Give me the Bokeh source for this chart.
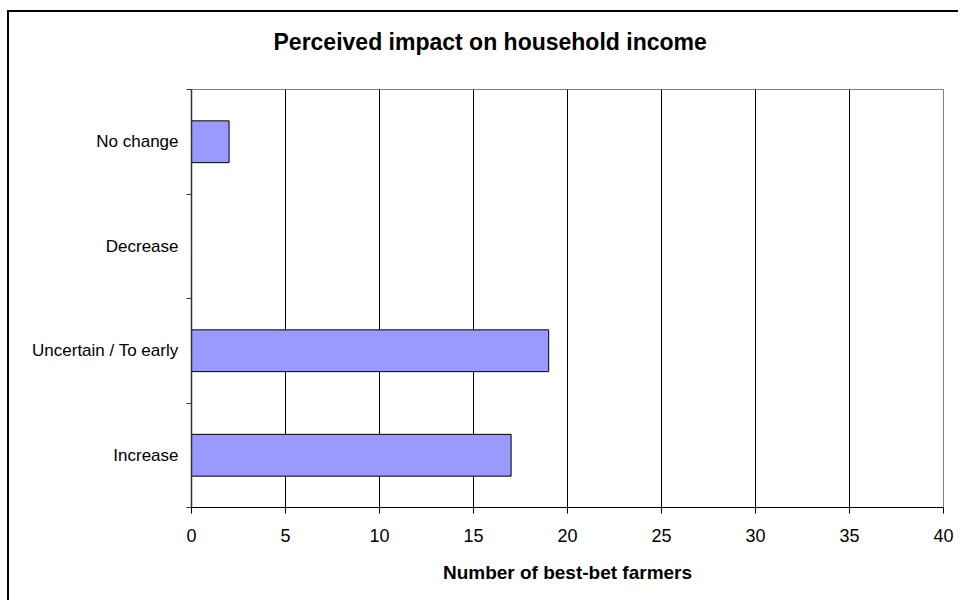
from bokeh.plotting import figure
from bokeh.models import FixedTicker, Range1d, Title
from bokeh.embed import file_html
from bokeh.resources import INLINE

# Survey answers, listed bottom to top
categories = ["Increase", "Uncertain / To early", "Decrease", "No change"]
farmers = [17, 19, 0, 2]
x_ticks = [0, 5, 10, 15, 20, 25, 30, 35, 40]
title_text = "Perceived impact on household income"
x_label = "Number of best-bet farmers"

centers = [i + 0.5 for i in range(len(categories))]
bounds = list(range(len(categories) + 1))

FONT = "Liberation Sans"

p = figure(
    width=951, height=590,
    x_range=Range1d(0, 40), y_range=Range1d(0, len(categories)),
    output_backend="svg", toolbar_location=None,
    min_border_left=182, min_border_right=17,
    min_border_top=77, min_border_bottom=95,
    background_fill_color="white", border_fill_color="white",
)
p.margin = (10, 0, 0, 7)
p.styles = {"border-left": "2px solid black", "border-top": "2px solid black"}

p.hbar(y=centers, right=farmers, left=0, height=0.4,
       fill_color="#9999FF", line_color="black", line_width=1)

p.outline_line_color = "#808080"
p.outline_line_width = 1

# title plus an empty spacer line between it and the plot frame
p.title.text = title_text
p.title.text_font = FONT
p.title.text_font_size = "23px"
p.title.text_font_style = "bold"
p.title.text_color = "black"
p.title.align = "left"
p.title.offset = 82
p.title.standoff = 22
p.add_layout(Title(text=" ", text_font_size="20px", standoff=0), "above")

# x axis
p.xaxis.ticker = FixedTicker(ticks=x_ticks)
p.xaxis.axis_label = x_label
p.xaxis.axis_label_text_font = FONT
p.xaxis.axis_label_text_font_size = "19px"
p.xaxis.axis_label_text_font_style = "bold"
p.xaxis.axis_label_text_color = "black"
p.xaxis.axis_label_standoff = 17
p.xaxis.major_label_text_font = FONT
p.xaxis.major_label_text_font_size = "18px"
p.xaxis.major_label_text_color = "black"
p.xaxis.major_label_standoff = 15
p.xaxis.major_tick_in = 0
p.xaxis.major_tick_out = 6
p.xaxis.minor_tick_line_color = None
p.xaxis.axis_line_color = "black"
p.xaxis.major_tick_line_color = "black"

# y axis: labels centred on bars, ticks on the band boundaries
p.yaxis.ticker = FixedTicker(ticks=centers, minor_ticks=bounds)
p.yaxis.major_label_overrides = {c: name for c, name in zip(centers, categories)}
p.yaxis.major_label_text_font = FONT
p.yaxis.major_label_text_font_size = "17px"
p.yaxis.major_label_text_color = "black"
p.yaxis.major_label_standoff = 8
p.yaxis.major_tick_in = 0
p.yaxis.major_tick_out = 0
p.yaxis.minor_tick_in = 0
p.yaxis.minor_tick_out = 5
p.yaxis.minor_tick_line_color = "#333333"
p.yaxis.axis_line_color = "#333333"
p.yaxis.axis_line_width = 1.5

p.xgrid.grid_line_color = "black"
p.xgrid.grid_line_width = 1
p.ygrid.grid_line_color = None

open("out.html", "w").write(file_html(p, INLINE))
